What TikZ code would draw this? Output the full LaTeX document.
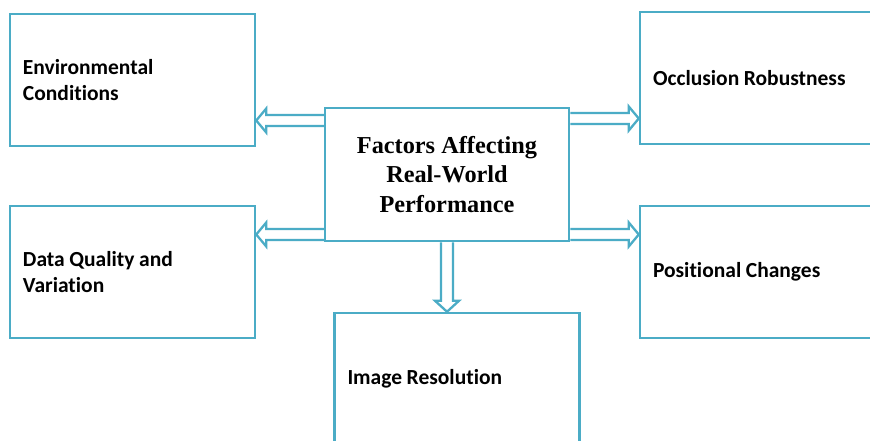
\documentclass[tikz,border=0pt]{standalone}
\usepackage{fontspec}
\setmainfont{Carlito}[Ligatures=NoCommon]
\newfontfamily\serifb{Liberation Serif}
\usetikzlibrary{calc}
\definecolor{boxblue}{RGB}{75,172,198}
\begin{document}
\begin{tikzpicture}[x=1pt,y=-1pt,
  box/.style={draw=boxblue, line width=2.5pt, minimum width=245pt, minimum height=132pt,
     inner xsep=12pt, text width=219pt, align=left,
     font=\fontsize{21.5}{26}\selectfont\bfseries,
     execute at begin node={\spaceskip=4.6pt\relax}},
  cbox/.style={draw=boxblue, line width=2.5pt, minimum width=244pt, minimum height=133pt,
     align=center, font=\serifb\fontsize{24.3}{29.5}\selectfont\bfseries},
  arr/.style={draw=boxblue, line width=2.3pt, line join=miter}]
\useasboundingbox (0,0) rectangle (870,441);
\clip (0,0) rectangle (870,441);
\fill[white] (0,0) rectangle (870,441);
\node[cbox] (c) at (447,174.5) {Factors Affecting\\Real-World\\Performance};
\node[box] (env) at (132.5,80) {Environmental\\Conditions};
\node[box] (data) at (132.5,272) {Data Quality and\\Variation};
\node[box] (occ) at (762.5,78) {Occlusion Robustness};
\node[box] (pos) at (762.5,272) {Positional Changes};
\node[box] (img) at (457,379) {Image Resolution};
% y levels for connectors
\coordinate (yl1) at (0,120.5);
\coordinate (yl2) at (0,234.5);
\coordinate (yr1) at (0,118.5);
\coordinate (yr2) at (0,234.5);
\coordinate (xd) at (447,0);
% left arrows
\foreach \yy/\tgt in {yl1/env, yl2/data}{
  \coordinate (T) at (c.west |- \yy);
  \coordinate (P) at (\tgt.east |- \yy);
  \draw[arr] ($(T)+(0,-5.5)$) -- ($(P)+(10,-5.5)$) -- ($(P)+(10,-12)$) -- (P)
     -- ($(P)+(10,12)$) -- ($(P)+(10,5.5)$) -- ($(T)+(0,5.5)$);
}
% right arrows
\foreach \yy/\tgt in {yr1/occ, yr2/pos}{
  \coordinate (T) at (c.east |- \yy);
  \coordinate (P) at (\tgt.west |- \yy);
  \draw[arr] ($(T)+(0,-5.5)$) -- ($(P)+(-10,-5.5)$) -- ($(P)+(-10,-12)$) -- (P)
     -- ($(P)+(-10,12)$) -- ($(P)+(-10,5.5)$) -- ($(T)+(0,5.5)$);
}
% down arrow
\coordinate (T) at (xd |- c.south);
\coordinate (P) at (xd |- img.north);
\draw[arr] ($(T)+(-6,0)$) -- ($(P)+(-6,-11)$) -- ($(P)+(-12,-11)$) -- (P)
   -- ($(P)+(12,-11)$) -- ($(P)+(6,-11)$) -- ($(T)+(6,0)$);
\end{tikzpicture}
\end{document}
